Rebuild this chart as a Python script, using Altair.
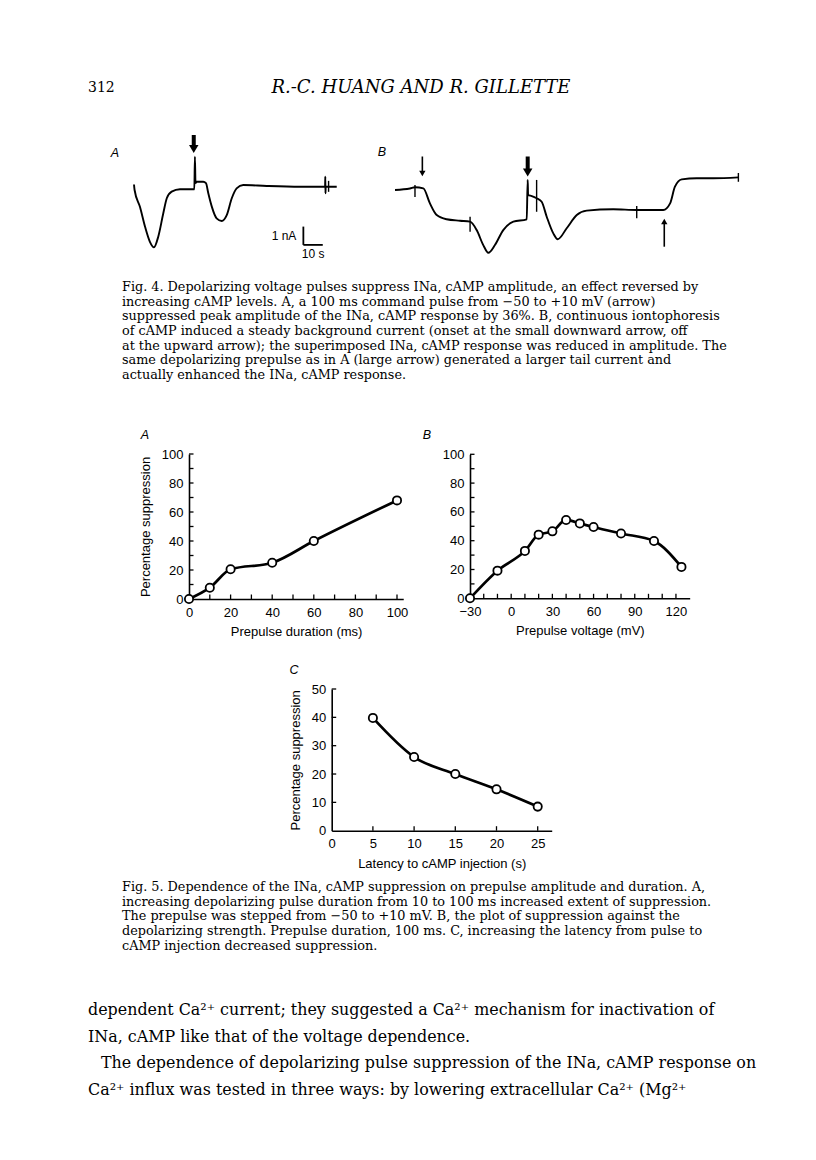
import altair as alt
import pandas as pd

# ---------------- Fig. 4 current traces (time in s, current in nA) ----------------
traceA_t = [0.0, 0.3, 3.1, 5.7, 8.2, 10.3, 12.5, 15.1, 16.9, 19.4, 23.7, 31.1, 31.4, 31.7, 32.3,
            35.7, 37.1, 38.3, 40.1, 42.6, 45.2, 47.8, 50.4, 52.9, 56.3, 68.4, 85.6, 98.5,
            98.6, 98.7, 98.8, 104.5]
traceA_i = [0.3, 0.0, -0.93, -2.01, -2.83, -3.13, -2.55, -1.27, -0.45, -0.09, 0.04, 0.04, 1.82,
            0.38, 0.45, 0.45, 0.37, -0.18, -0.91, -1.55, -1.69, -1.37, -0.45, 0.09, 0.27, 0.22,
            0.18, 0.18, 0.73, -0.18, 0.18, 0.18]
traceB_t = [0.0, 7.7, 10.3, 14.6, 18.0, 21.5, 26.6, 33.5, 38.7, 42.1, 45.5, 48.1, 51.5, 55.8,
            61.0, 67.9, 68.4, 68.6, 70.5, 73.0, 75.6, 78.2, 81.6, 83.9, 88.5, 93.7, 98.8,
            112.5, 124.6, 138.3, 141.8, 144.3, 147.8, 155.5, 164.1, 177.0]
traceB_i = [0.0, 0.08, 0.15, 0.09, -0.73, -1.37, -1.60, -1.68, -1.73, -2.19, -3.01, -3.43, -3.01,
            -2.19, -1.73, -1.60, 0.55, -0.27, -0.33, -0.45, -0.64, -1.46, -2.37, -2.69, -2.09,
            -1.37, -1.13, -1.05, -1.09, -1.09, -0.73, 0.18, 0.58, 0.64, 0.64, 0.69]
# stimulus artefacts (vertical marks crossing the traces)
artA_t, artA_lo, artA_hi = [100.3], [-0.1], [0.5]
artB_t = [10.3, 38.7, 73.0, 124.6, 177.0]
artB_lo = [-0.38, -2.28, -1.19, -1.55, 0.45]
artB_hi = [0.27, -1.46, 0.55, -0.87, 0.93]
# arrows (time of event)
arrowA_big_t = [30.8]
arrowB_small_t = [14.1]
arrowB_big_t = [68.4]
arrowB_up_t = [138.8]
# scale bar: 10 s, 1 nA
bar_t0, bar_t1 = 87.3, 97.3
bar_i0, bar_i1 = -3.0, -2.0

# ---------------- Fig. 5 data ----------------
A_dur = [0, 10, 20, 40, 60, 100]
A_sup = [0, 7.8, 20.5, 25, 40, 68]
B_volt = [-30, -10, 10, 20, 30, 40, 50, 60, 80, 104, 124]
B_sup = [0, 19.2, 32.9, 44.2, 46.5, 54.4, 52, 49.5, 45, 39.8, 21.8]
C_lat = [5, 10, 15, 20, 25]
C_sup = [39.8, 26, 20, 14.6, 8.5]

A_xlabels = [0, 20, 40, 60, 80, 100]
A_ylabels = [0, 20, 40, 60, 80, 100]
B_xlabels = [-30, 0, 30, 60, 90, 120]
B_ylabels = [0, 20, 40, 60, 80, 100]
C_xlabels = [0, 5, 10, 15, 20, 25]
C_ylabels = [0, 10, 20, 30, 40, 50]
A_xticks = list(range(0, 101, 10))
A_yticks = list(range(0, 101, 10))
B_xticks = list(range(-30, 121, 10))
B_yticks = list(range(0, 101, 10))
C_xticks = [5, 10, 15, 20, 25]
C_yticks = [10, 20, 30, 40, 50]

# ---------------- Text ----------------
header_page = "312"
header_title = "R.-C. HUANG AND R. GILLETTE"
cap4_lines = [
    "Fig. 4. Depolarizing voltage pulses suppress INa, cAMP amplitude, an effect reversed by",
    "increasing cAMP levels. A, a 100 ms command pulse from \u221250 to +10 mV (arrow)",
    "suppressed peak amplitude of the INa, cAMP response by 36%. B, continuous iontophoresis",
    "of cAMP induced a steady background current (onset at the small downward arrow, off",
    "at the upward arrow); the superimposed INa, cAMP response was reduced in amplitude. The",
    "same depolarizing prepulse as in A (large arrow) generated a larger tail current and",
    "actually enhanced the INa, cAMP response.",
]
cap5_lines = [
    "Fig. 5. Dependence of the INa, cAMP suppression on prepulse amplitude and duration. A,",
    "increasing depolarizing pulse duration from 10 to 100 ms increased extent of suppression.",
    "The prepulse was stepped from \u221250 to +10 mV. B, the plot of suppression against the",
    "depolarizing strength. Prepulse duration, 100 ms. C, increasing the latency from pulse to",
    "cAMP injection decreased suppression.",
]
body_lines = [
    "dependent Ca\u00b2\u207a current; they suggested a Ca\u00b2\u207a mechanism for inactivation of",
    "INa, cAMP like that of the voltage dependence.",
    "The dependence of depolarizing pulse suppression of the INa, cAMP response on",
    "Ca\u00b2\u207a influx was tested in three ways: by lowering extracellular Ca\u00b2\u207a (Mg\u00b2\u207a",
]
body_indent = [0, 0, 13, 0]

SANS = "Liberation Sans"
SERIF = "DejaVu Serif"
W, H = 800, 1144
TICKFS = 13

# ---------------- Fig. 4 ----------------
yTr = alt.Scale(domain=[-4, 2], range=[255.2, 145.4], nice=False, zero=False)


def trace_group(ts, cur, xs, art_t, art_lo, art_hi):
    df = pd.DataFrame({"t": ts, "i": cur, "k": list(range(len(ts)))})
    line = alt.Chart(df).mark_line(color="black", strokeWidth=1.9, interpolate="monotone").encode(
        x=alt.X("t:Q", scale=xs, axis=None),
        y=alt.Y("i:Q", scale=yTr, axis=None),
        order="k:Q",
    )
    art = alt.Chart(pd.DataFrame({"t": art_t, "lo": art_lo, "hi": art_hi})).mark_rule(
        color="black", strokeWidth=1.4
    ).encode(x=alt.X("t:Q", scale=xs, axis=None), y=alt.Y("lo:Q", scale=yTr, axis=None), y2="hi:Q")
    return [line, art]


def arrow(ts, xs, y_top, y_bot, head_y, shape, width, head_size):
    d = pd.DataFrame({"t": ts})
    shaft = alt.Chart(d).mark_rule(color="black", strokeWidth=width).encode(
        x=alt.X("t:Q", scale=xs, axis=None), y=alt.value(y_top), y2=alt.value(y_bot))
    head = alt.Chart(d).mark_point(shape=shape, filled=True, color="black", size=head_size, opacity=1).encode(
        x=alt.X("t:Q", scale=xs, axis=None), y=alt.value(head_y))
    return [shaft, head]


xTrA = alt.Scale(domain=[0, 110], range=[126, 339.4], nice=False, zero=False)
xTrB = alt.Scale(domain=[0, 180], range=[387, 736.2], nice=False, zero=False)

groupA = trace_group(traceA_t, traceA_i, xTrA, artA_t, artA_lo, artA_hi)
groupA += arrow(arrowA_big_t, xTrA, 127, 138, 141, "triangle-down", 4, 90)
bar_v = alt.Chart(pd.DataFrame({"t": [bar_t0], "a": [bar_i0], "b": [bar_i1]})).mark_rule(
    color="black", strokeWidth=1.8).encode(x=alt.X("t:Q", scale=xTrA, axis=None),
                                           y=alt.Y("a:Q", scale=yTr, axis=None), y2="b:Q")
bar_h = alt.Chart(pd.DataFrame({"a": [bar_t0], "b": [bar_t1], "i": [bar_i0]})).mark_rule(
    color="black", strokeWidth=1.8).encode(x=alt.X("a:Q", scale=xTrA, axis=None), x2="b:Q",
                                           y=alt.Y("i:Q", scale=yTr, axis=None))
bar_lab1 = alt.Chart(pd.DataFrame({"t": [bar_t0], "i": [(bar_i0 + bar_i1) / 2], "s": ["1 nA"]})).mark_text(
    align="right", baseline="middle", dx=-7, font=SANS, fontSize=12, color="black").encode(
    x=alt.X("t:Q", scale=xTrA, axis=None), y=alt.Y("i:Q", scale=yTr, axis=None), text="s:N")
bar_lab2 = alt.Chart(pd.DataFrame({"t": [(bar_t0 + bar_t1) / 2], "i": [bar_i0], "s": ["10 s"]})).mark_text(
    align="center", baseline="middle", dy=9, font=SANS, fontSize=12, color="black").encode(
    x=alt.X("t:Q", scale=xTrA, axis=None), y=alt.Y("i:Q", scale=yTr, axis=None), text="s:N")
groupA += [bar_v, bar_h, bar_lab1, bar_lab2]

groupB = trace_group(traceB_t, traceB_i, xTrB, artB_t, artB_lo, artB_hi)
groupB += arrow(arrowB_small_t, xTrB, 148.5, 163, 165.5, "triangle-down", 1.6, 40)
groupB += arrow(arrowB_big_t, xTrB, 148.5, 161, 164.5, "triangle-down", 4, 90)
groupB += arrow(arrowB_up_t, xTrB, 216, 238.7, 213.5, "triangle-up", 1.6, 40)

fig4A = alt.layer(*groupA)
fig4B = alt.layer(*groupB)


# ---------------- Fig. 5 panels ----------------
def panel(xs, ys, xscale, yscale, xaxis, yaxis, xt, yt, x0, y0):
    df = pd.DataFrame({"x": xs, "y": ys})
    line = alt.Chart(df).mark_line(color="black", strokeWidth=2.7, interpolate="monotone").encode(
        x=alt.X("x:Q", scale=xscale, axis=xaxis), y=alt.Y("y:Q", scale=yscale, axis=yaxis))
    pts = alt.Chart(df).mark_point(shape="circle", filled=True, fill="white", stroke="black",
                                   strokeWidth=1.8, size=68, opacity=1).encode(
        x=alt.X("x:Q", scale=xscale, axis=xaxis), y=alt.Y("y:Q", scale=yscale, axis=yaxis))
    xtk = alt.Chart(pd.DataFrame({"x": xt})).mark_rule(color="black", strokeWidth=1.3).encode(
        x=alt.X("x:Q", scale=xscale, axis=xaxis), y=alt.value(y0), y2=alt.value(y0 - 4.5))
    ytk = alt.Chart(pd.DataFrame({"y": yt})).mark_rule(color="black", strokeWidth=1.3).encode(
        y=alt.Y("y:Q", scale=yscale, axis=yaxis), x=alt.value(x0), x2=alt.value(x0 + 4.5))
    return alt.layer(line, xtk, ytk, pts)


def xax(values, offset, title, label_pad, title_pad):
    return alt.Axis(orient="bottom", offset=offset, values=values, ticks=False, grid=False,
                    labelFlush=False, labelPadding=label_pad, title=title, titlePadding=title_pad,
                    domainColor="black", domainWidth=1.6, labelFont=SANS, titleFont=SANS,
                    labelFontSize=TICKFS, titleFontSize=TICKFS, titleFontWeight="normal",
                    labelColor="black", titleColor="black")


def yax(values, offset, title, label_pad, title_pad):
    kw = dict(orient="left", offset=offset, values=values, ticks=False, grid=False,
              labelPadding=label_pad, domainColor="black", domainWidth=1.6, labelFont=SANS,
              titleFont=SANS, labelFontSize=TICKFS, titleFontSize=TICKFS, titleFontWeight="normal",
              labelColor="black", titleColor="black")
    if title:
        kw["title"] = title
        kw["titlePadding"] = title_pad
    else:
        kw["title"] = ""
    return alt.Axis(**kw)


# pixel geometry of each panel (chart coords)
Ax0, Ay0 = 181, 591
Bx0, By0 = 462, 590.3
Cx0, Cy0 = 323.7, 822.7

xA = alt.Scale(domain=[0, 103], range=[Ax0, Ax0 + 103 * 2.08], nice=False, zero=False)
yA = alt.Scale(domain=[0, 100], range=[Ay0, 446], nice=False, zero=False)
xB = alt.Scale(domain=[-30, 130], range=[Bx0, Bx0 + 160 * 1.373], nice=False, zero=False)
yB = alt.Scale(domain=[0, 100], range=[By0, 446.3], nice=False, zero=False)
xC = alt.Scale(domain=[0, 26.7], range=[Cx0, Cx0 + 26.7 * 8.24], nice=False, zero=False)
yC = alt.Scale(domain=[0, 50], range=[Cy0, 681], nice=False, zero=False)

pA = panel(A_dur, A_sup, xA, yA,
           xax(A_xlabels, -(H - Ay0), "Prepulse duration (ms)", 7, 6),
           yax(A_ylabels, -Ax0, "Percentage suppression", 6, 9),
           A_xticks, A_yticks, Ax0, Ay0)
pB = panel(B_volt, B_sup, xB, yB,
           xax(B_xlabels, -(H - By0), "Prepulse voltage (mV)", 7, 6),
           yax(B_ylabels, -Bx0, "", 6, 9),
           B_xticks, B_yticks, Bx0, By0)
pC = panel(C_lat, C_sup, xC, yC,
           xax(C_xlabels, -(H - Cy0), "Latency to cAMP injection (s)", 7, 7),
           yax(C_ylabels, -Cx0, "Percentage suppression", 6, 9),
           C_xticks, C_yticks, Cx0, Cy0)


# ---------------- Text layers ----------------
def text_block(lines, xs, ys, font, size, style="normal", align="left"):
    df = pd.DataFrame({"t": lines, "px": xs, "py": ys})
    return alt.Chart(df).mark_text(align=align, baseline="middle", font=font, fontSize=size,
                                   fontStyle=style, color="black").encode(
        text="t:N", x=alt.X("px:Q", scale=None, axis=None), y=alt.Y("py:Q", scale=None, axis=None))


def rows(y_start, dy, n):
    return [y_start + dy * k for k in range(n)]


t_page = text_block([header_page], [80], [80], SERIF, 14)
t_title = text_block([header_title], [413], [80], SERIF, 18, style="italic", align="center")
t_cap4 = text_block(cap4_lines, [114] * len(cap4_lines), rows(279, 14.65, len(cap4_lines)), SERIF, 12.8)
t_cap5 = text_block(cap5_lines, [114] * len(cap5_lines), rows(879, 14.65, len(cap5_lines)), SERIF, 12.8)
t_body = text_block(body_lines, [80 + d for d in body_indent], rows(1002, 26.5, len(body_lines)), SERIF, 15.9)
t_let4 = text_block(["A", "B"], [107, 374], [145, 144], SANS, 12.5, style="italic", align="center")
t_let5 = text_block(["A", "B", "C"], [137, 419, 286], [427, 427, 662], SANS, 12.5, style="italic",
                    align="center")

chart = alt.layer(
    fig4A, fig4B, pA, pB, pC,
    t_page, t_title, t_cap4, t_cap5, t_body, t_let4, t_let5,
).resolve_scale(x="independent", y="independent").resolve_axis(
    x="independent", y="independent"
).properties(
    width=W, height=H, padding=0, background="white",
    autosize=alt.AutoSizeParams(type="none"),
).configure_view(stroke=None)

chart.save("out.html", embed_options={"renderer": "svg", "actions": False})
